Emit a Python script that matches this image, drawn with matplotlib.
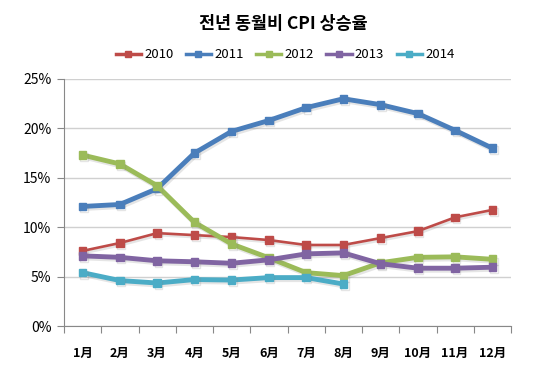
import matplotlib
matplotlib.use("Agg")
import matplotlib.pyplot as plt
import matplotlib.patheffects as pe
from matplotlib.ticker import FuncFormatter, MultipleLocator

plt.rcParams["font.family"] = ["Noto Sans CJK KR", "DejaVu Sans"]

months = ["1月", "2月", "3月", "4月", "5月", "6月", "7月", "8月", "9月", "10月", "11月", "12月"]
cpi_2010 = [7.6, 8.4, 9.4, 9.2, 9.0, 8.7, 8.2, 8.2, 8.9, 9.6, 11.0, 11.75]
cpi_2011 = [12.1, 12.3, 13.9, 17.5, 19.7, 20.8, 22.1, 23.0, 22.4, 21.5, 19.8, 18.0]
cpi_2012 = [17.3, 16.4, 14.2, 10.5, 8.3, 6.9, 5.4, 5.1, 6.4, 6.95, 7.0, 6.75]
cpi_2013 = [7.1, 6.95, 6.6, 6.5, 6.35, 6.7, 7.3, 7.4, 6.3, 5.85, 5.85, 5.95]
cpi_2014 = [5.4, 4.6, 4.35, 4.7, 4.65, 4.9, 4.9, 4.25]

series = [
    ("2010", cpi_2010, "#BE4B48", 1.9),
    ("2011", cpi_2011, "#4A7EBB", 3.5),
    ("2012", cpi_2012, "#9BBB59", 3.5),
    ("2013", cpi_2013, "#8064A2", 3.5),
    ("2014", cpi_2014, "#4BACC6", 3.5),
]

fig = plt.figure(figsize=(5.38, 3.65), dpi=100)
ax = fig.add_axes([64 / 538, 1 - 326 / 365, 447 / 538, 247 / 365])

shadow = [pe.SimpleLineShadow(offset=(1, -1.5), alpha=0.2, shadow_color="gray"), pe.Normal()]
for name, vals, color, lw in series:
    ax.plot(range(len(vals)), vals, color=color, lw=lw, marker="s", ms=5.5,
            markerfacecolor=color, markeredgecolor=color, label=name,
            path_effects=shadow, solid_joinstyle="round")

ax.set_xlim(-0.5, 11.5)
ax.set_ylim(0, 25)
ax.yaxis.set_major_locator(MultipleLocator(5))
ax.yaxis.set_major_formatter(FuncFormatter(lambda v, p: f"{v:.0f}%"))
ax.set_xticks([i - 0.5 for i in range(13)])
ax.set_xticklabels([])
ax.set_xticks(range(12), minor=True)
ax.set_xticklabels(months, minor=True, fontsize=9, fontweight="bold")
ax.tick_params(axis="x", which="minor", length=0, pad=15)
ax.tick_params(axis="x", which="major", length=5, color="#888888")
ax.tick_params(axis="y", length=5, color="#888888", labelsize=10, pad=4)
ax.grid(axis="y", color="#D0D0D0", lw=1)
ax.set_axisbelow(True)
for s in ["top", "right"]:
    ax.spines[s].set_visible(False)
ax.spines["left"].set_color("#888888")
ax.spines["bottom"].set_color("#888888")

fig.text(0.527, 1 - 24 / 365, "전년 동월비 CPI 상승율", ha="center", va="center",
         fontsize=12.5, fontweight="bold")
leg = fig.legend(loc="center", bbox_to_anchor=(0.53, 1 - 55 / 365), ncol=5, frameon=False,
                 fontsize=9.5, handlelength=1.9, handletextpad=0.25, columnspacing=0.95)
for h in leg.legend_handles:
    h.set_linewidth(2.5)
    h.set_markersize(5)
    h.set_path_effects([])

fig.savefig("out.png", dpi=100)
